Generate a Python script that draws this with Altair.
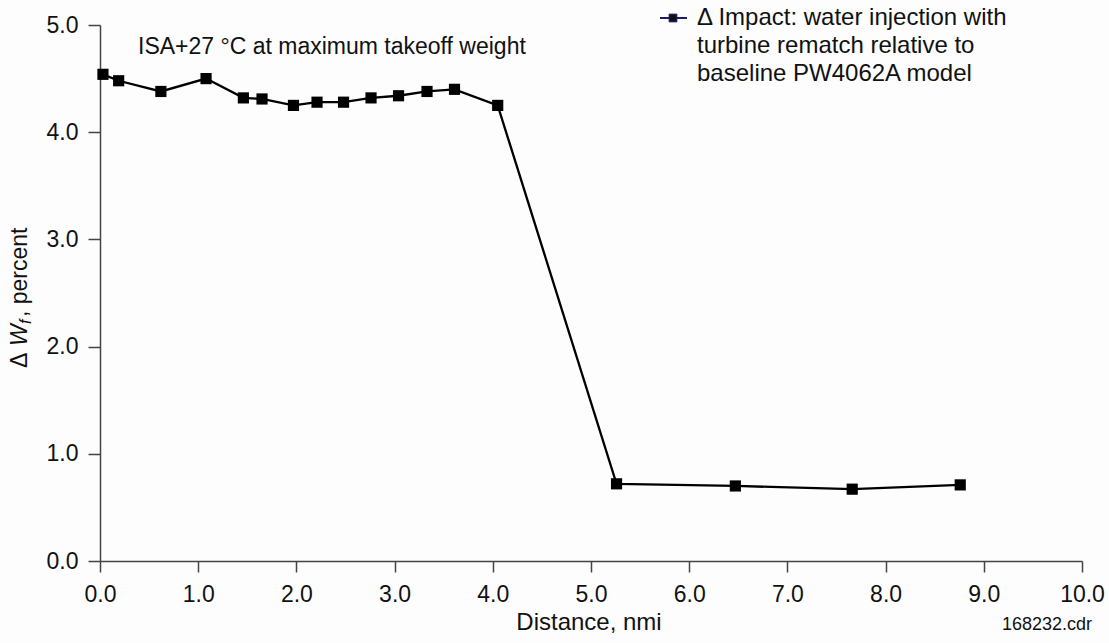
import altair as alt
import pandas as pd

distance = [0.03, 0.19, 0.62, 1.08, 1.46, 1.65, 1.97, 2.21, 2.48, 2.76, 3.04, 3.33, 3.61, 4.05,
            5.26, 6.47, 7.66, 8.76]
delta_wf = [4.54, 4.48, 4.38, 4.50, 4.32, 4.31, 4.25, 4.28, 4.28, 4.32, 4.34, 4.38, 4.40, 4.25,
            0.72, 0.70, 0.67, 0.71]
x_ticks = [0, 1, 2, 3, 4, 5, 6, 7, 8, 9, 10]
y_ticks = [0, 1, 2, 3, 4, 5]
legend_lines = ["\u0394 Impact: water injection with",
                "turbine rematch relative to",
                "baseline PW4062A model"]

df = pd.DataFrame({"distance": distance, "dwf": delta_wf})
FONT = "Liberation Sans"
W, H = 982, 536

xenc = alt.X("distance:Q", scale=alt.Scale(domain=[0, 10], nice=False),
             axis=alt.Axis(values=x_ticks, format=".1f", title=None, grid=False,
                           labelFontSize=23, labelFont=FONT, labelColor="#111",
                           labelFlush=False, labelOverlap=False,
                           tickSize=11, tickColor="#444", tickWidth=1.5,
                           domainColor="#444", domainWidth=1.5, labelPadding=11))
yenc = alt.Y("dwf:Q", scale=alt.Scale(domain=[0, 5], nice=False),
             axis=alt.Axis(values=y_ticks, format=".1f", title=None, grid=False,
                           labelFontSize=23, labelFont=FONT, labelColor="#111",
                           labelFlush=False, labelOverlap=False,
                           tickSize=12, tickColor="#444", tickWidth=1.5,
                           domainColor="#444", domainWidth=1.5, labelPadding=10))

line = alt.Chart(df).mark_line(color="black", strokeWidth=2.3).encode(x=xenc, y=yenc)
pts = alt.Chart(df).mark_point(shape="square", filled=True, color="black", size=125, opacity=1).encode(x=xenc, y=yenc)

def txt(s, x, y, size=23, align="left", angle=0, style="normal", baseline="middle", color="#111"):
    return alt.Chart(pd.DataFrame({"t": [s]})).mark_text(
        align=align, baseline=baseline, fontSize=size, font=FONT, angle=angle,
        fontStyle=style, color=color
    ).encode(text="t:N", x=alt.value(x), y=alt.value(y))

layers = [line, pts]
layers.append(txt("ISA+27 \u00b0C at maximum takeoff weight", 38, 22, size=23))
for i, s in enumerate(legend_lines):
    layers.append(txt(s, 597, -7 + 28 * i, size=24))
leg_line = alt.Chart(pd.DataFrame({"a": [0]})).mark_rule(color="#1a1a6e", strokeWidth=2).encode(
    x=alt.value(560), x2=alt.value(587), y=alt.value(-7))
leg_pt = alt.Chart(pd.DataFrame({"a": [0]})).mark_point(shape="square", filled=True, color="#111",
                                                        stroke="#1a1a6e", strokeWidth=1, size=60, opacity=1).encode(
    x=alt.value(573), y=alt.value(-7))
layers += [leg_line, leg_pt]
layers.append(txt("Distance, nmi", 489, 598, size=24, align="center"))
layers.append(txt("168232.cdr", 992, 600, size=18, align="right"))
# y axis title pieces (rotated)
layers.append(txt("\u0394", -80, 343, angle=270))
layers.append(txt("W", -80, 321, angle=270, style="italic"))
layers.append(txt("f", -74, 299, size=16, angle=270, style="italic"))
layers.append(txt(", percent", -80, 292, angle=270))

chart = alt.layer(*layers).properties(
    width=W, height=H,
    autosize=alt.AutoSizeParams(type="none"),
    padding={"left": 100, "top": 25, "right": 27, "bottom": 82},
    background="#fdfdfd",
).configure_view(stroke=None)

chart.save("out.html", embed_options={"renderer": "svg", "actions": False})
